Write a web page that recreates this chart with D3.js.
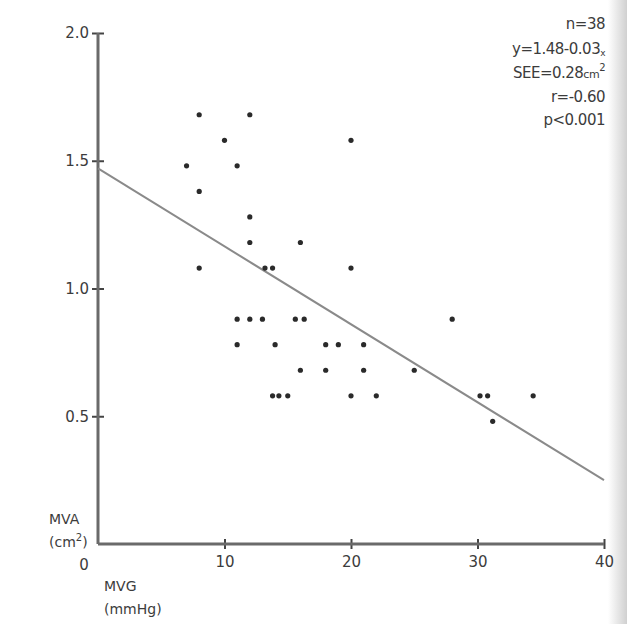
<!DOCTYPE html>
<html>
<head>
<meta charset="utf-8">
<script src="https://cdn.jsdelivr.net/npm/d3@7"></script>
<style>
  html, body { margin: 0; padding: 0; background: #fff; }
  svg { display: block; }
  text { font-family: "DejaVu Sans", sans-serif; fill: #3c3c3c; }
</style>
</head>
<body>
<div id="chart"></div>
<script>
'use strict';

// MVG (mmHg) values of each patient
var mvg = [8, 12, 10, 20, 7, 11, 8, 12, 12, 16,
           8, 13.2, 13.8, 20, 11, 12, 13, 15.6, 16.3, 11,
           14, 18, 19, 21, 16, 18, 21, 25, 28, 13.8,
           14.3, 15, 20, 22, 30.2, 30.8, 34.4, 31.2];

// MVA (cm2) values, same order
var mva = [1.68, 1.68, 1.58, 1.58, 1.48, 1.48, 1.38, 1.28, 1.18, 1.18,
           1.08, 1.08, 1.08, 1.08, 0.88, 0.88, 0.88, 0.88, 0.88, 0.78,
           0.78, 0.78, 0.78, 0.78, 0.68, 0.68, 0.68, 0.68, 0.88, 0.58,
           0.58, 0.58, 0.58, 0.58, 0.58, 0.58, 0.58, 0.48];

// regression line, ends at x = 0 and x = 40
var fitX = [0, 40];
var fitY = [1.47, 0.25];

// ticks
var xTicks = [10, 20, 30, 40];
var yTicks = [0.5, 1.0, 1.5, 2.0];
var yTickLabels = ['0.5', '1.0', '1.5', '2.0'];

// statistics box
var statLines = ['n=38', 'y=1.48-0.03x', 'SEE=0.28cm2', 'r=-0.60', 'p<0.001'];

var width = 627, height = 624;

var svg = d3.select('#chart').append('svg')
  .attr('width', width)
  .attr('height', height);

// scanned page edge on the right
var grad = svg.append('defs').append('linearGradient')
  .attr('id', 'edge').attr('x1', 0).attr('x2', 1).attr('y1', 0).attr('y2', 0);
grad.append('stop').attr('offset', 0).attr('stop-color', '#fff');
grad.append('stop').attr('offset', 1).attr('stop-color', '#d0d0d0');
svg.append('rect')
  .attr('x', 608).attr('y', 0).attr('width', 19).attr('height', height)
  .attr('fill', 'url(#edge)');

var x = d3.scaleLinear().domain([0, 40]).range([98, 604]);
var y = d3.scaleLinear().domain([0, 2]).range([544, 33]);

var axisColor = '#6a6a6a';

/**
 * Y axis with ticks crossing the line
 */
var yAxis = svg.append('g')
  .attr('transform', 'translate(' + x(0) + ',0)')
  .call(d3.axisLeft(y)
    .tickValues(yTicks)
    .tickSize(6)
    .tickPadding(3)
    .tickFormat(function(d, i) { return yTickLabels[i]; }));

yAxis.select('.domain').remove();
yAxis.append('line')
  .attr('x1', 0).attr('x2', 0)
  .attr('y1', y(2)).attr('y2', y(0))
  .attr('stroke', axisColor).attr('stroke-width', 3);
yAxis.selectAll('.tick line')
  .attr('x1', 6).attr('x2', -6)
  .attr('stroke', '#444').attr('stroke-width', 2);
yAxis.selectAll('.tick text')
  .attr('font-size', 15)
  .attr('font-family', '"DejaVu Sans", sans-serif')
  .attr('fill', '#3c3c3c');

/**
 * X axis
 */
var xAxis = svg.append('g')
  .attr('transform', 'translate(0,' + y(0) + ')')
  .call(d3.axisBottom(x)
    .tickValues(xTicks)
    .tickSize(5)
    .tickPadding(7)
    .tickFormat(d3.format('d')));

xAxis.select('.domain').remove();
xAxis.append('line')
  .attr('x1', x(0)).attr('x2', x(40))
  .attr('y1', 0).attr('y2', 0)
  .attr('stroke', axisColor).attr('stroke-width', 3);
xAxis.selectAll('.tick line')
  .attr('y1', -5).attr('y2', 5)
  .attr('stroke', '#444').attr('stroke-width', 2);
xAxis.selectAll('.tick text')
  .attr('font-size', 15)
  .attr('font-family', '"DejaVu Sans", sans-serif')
  .attr('fill', '#3c3c3c');

// origin label
svg.append('text')
  .attr('x', x(0) - 14).attr('y', y(0) + 26)
  .attr('text-anchor', 'middle')
  .attr('font-size', 15)
  .text('0');

/**
 * Axis titles
 */
function drawTitle(px, py, main, unit, sup) {
  svg.append('text').attr('x', px).attr('y', py).attr('font-size', 14).text(main);
  var u = svg.append('text').attr('x', px).attr('y', py + 23).attr('font-size', 14);
  u.append('tspan').text(unit);
  if (sup) {
    u.append('tspan').attr('dy', -6).attr('font-size', 10).text(sup);
    u.append('tspan').attr('dy', 6).text(')');
  }
}
drawTitle(49, 524, 'MVA', '(cm', '2');
drawTitle(104, 591, 'MVG', '(mmHg)');

/**
 * Regression line
 */
svg.append('line')
  .attr('x1', x(fitX[0])).attr('y1', y(fitY[0]))
  .attr('x2', x(fitX[1])).attr('y2', y(fitY[1]))
  .attr('stroke', '#8a8a8a')
  .attr('stroke-width', 2);

/**
 * Points
 */
svg.append('g').selectAll('circle')
  .data(mvg)
  .enter().append('circle')
  .attr('cx', function(d) { return x(d); })
  .attr('cy', function(d, i) { return y(mva[i]); })
  .attr('r', 2.6)
  .attr('fill', '#2a2a2a');

/**
 * Statistics, right aligned at the top
 */
var statY = [29, 54, 78, 102, 125];
statLines.forEach(function(line, i) {
  var t = svg.append('text')
    .attr('x', 605).attr('y', statY[i])
    .attr('text-anchor', 'end')
    .attr('font-size', 15)
    .attr('letter-spacing', -0.5);
  if (line.slice(-1) === 'x') {
    t.append('tspan').text(line.slice(0, -1));
    t.append('tspan').attr('font-size', 9).attr('dy', 2).text('x');
  } else if (line.slice(-3) === 'cm2') {
    t.append('tspan').text(line.slice(0, -3));
    t.append('tspan').attr('font-size', 11).text('cm');
    t.append('tspan').attr('font-size', 10).attr('dy', -7).text('2');
  } else {
    t.text(line);
  }
});
</script>
</body>
</html>
